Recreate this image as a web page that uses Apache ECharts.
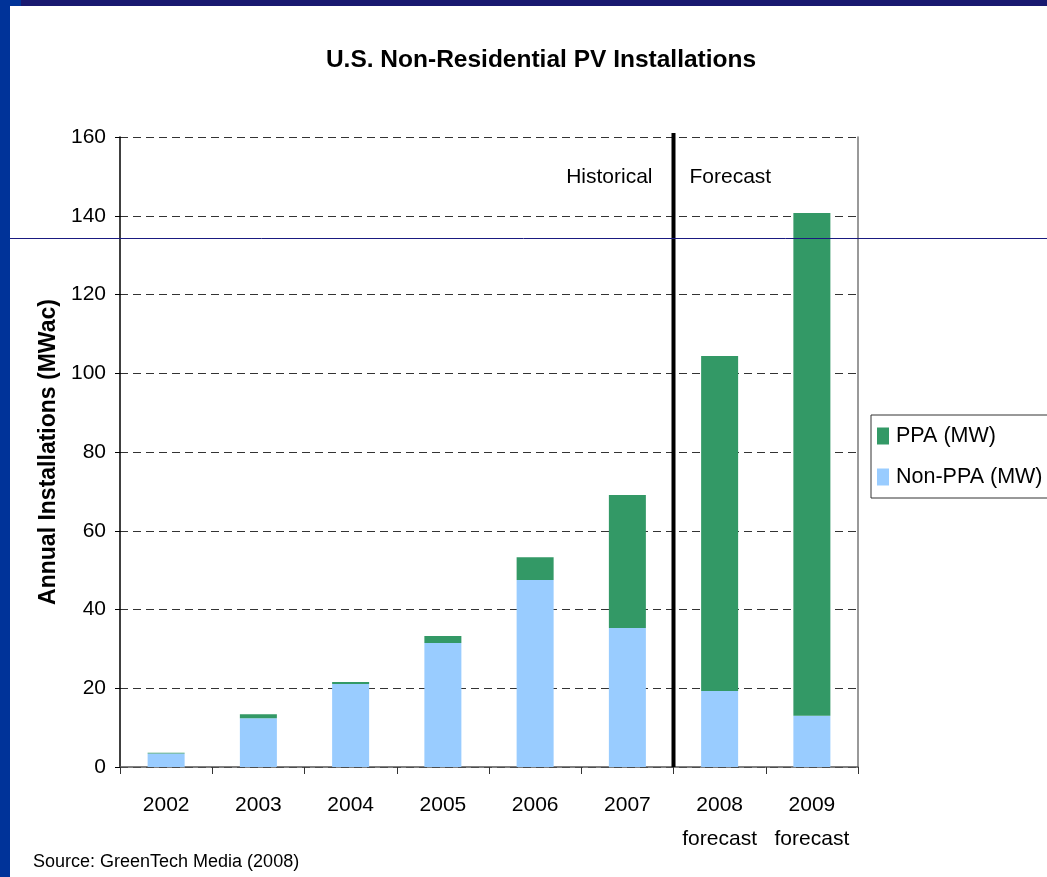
<!DOCTYPE html>
<html>
<head>
<meta charset="utf-8">
<script src="https://cdn.jsdelivr.net/npm/echarts@6/dist/echarts.min.js"></script>
<style>
  html, body { margin: 0; padding: 0; background: #fff; }
  #main { width: 1047px; height: 877px; }
</style>
</head>
<body>
<div id="main"></div>
<script>
const years = ['2002', '2003', '2004', '2005', '2006', '2007', '2008\nforecast', '2009\nforecast']
const nonPpa = [3.4, 12.4, 21.1, 31.5, 47.5, 35.3, 19.3, 13.0]
const ppa = [0.2, 1.0, 0.5, 1.8, 5.8, 33.8, 85.1, 127.7]
const yTicks = [0, 20, 40, 60, 80, 100, 120, 140, 160]

const font = 'Liberation Sans, Arial, sans-serif'
const chart = echarts.init(document.getElementById('main'))

const option = {
  animation: false,
  backgroundColor: '#fff',
  textStyle: { fontFamily: font },
  title: [{
    text: 'U.S. Non-Residential PV Installations',
    left: 536, top: 43, textAlign: 'center',
    textStyle: { fontSize: 24.5, fontWeight: 'bold', color: '#000', fontFamily: font }
  }, {
    text: 'Source: GreenTech Media (2008)',
    left: 28, top: 848,
    textStyle: { fontSize: 18, fontWeight: 'normal', color: '#000', fontFamily: font }
  }],
  legend: {
    orient: 'vertical',
    left: 871, top: 415,
    data: ['PPA (MW)', 'Non-PPA (MW)'],
    itemWidth: 12, itemHeight: 17, itemGap: 19,
    padding: [10, 6, 10, 6],
    borderColor: '#333', borderWidth: 1,
    icon: 'rect',
    textStyle: { fontSize: 21.5, color: '#000', fontFamily: font, padding: [0, 0, 0, 2] }
  },
  grid: { left: 120, right: 189, top: 137, bottom: 110 },
  xAxis: {
    type: 'category',
    data: years,
    axisLine: { lineStyle: { color: '#555', width: 1.5 } },
    axisTick: { show: true, interval: 0, length: 7, lineStyle: { color: '#333' } },
    axisLabel: { interval: 0, fontSize: 21, color: '#000', lineHeight: 34, margin: 21, fontFamily: font }
  },
  yAxis: [{
    type: 'value',
    min: 0, max: 160, interval: 20,
    name: 'Annual Installations (MWac)',
    nameLocation: 'middle', nameGap: 53,
    nameTextStyle: { fontSize: 23, fontWeight: 'bold', color: '#000', fontFamily: font },
    axisLine: { show: true, lineStyle: { color: '#000', width: 1.5 } },
    axisTick: { show: true, length: 5, lineStyle: { color: '#000' } },
    axisLabel: {
      fontSize: 21, color: '#000', margin: 14, fontFamily: font,
      formatter: v => yTicks.includes(v) ? String(v) : ''
    },
    splitLine: { show: true, lineStyle: { color: '#333', type: [8, 5], width: 1 } }
  }, {
    type: 'value',
    min: 0, max: 160, interval: 20,
    position: 'right',
    axisLine: { show: true, lineStyle: { color: '#777', width: 1.5 } },
    axisTick: { show: false },
    axisLabel: { show: false },
    splitLine: { show: false }
  }],
  series: [{
    name: 'Non-PPA (MW)',
    type: 'bar',
    stack: 'total',
    data: nonPpa,
    barWidth: 37,
    itemStyle: { color: '#99ccff' }
  }, {
    name: 'PPA (MW)',
    type: 'bar',
    stack: 'total',
    data: ppa,
    barWidth: 37,
    itemStyle: { color: '#339966' }
  }]
}

chart.setOption(option)

// divider between historical and forecast years
const xa = chart.convertToPixel({ xAxisIndex: 0 }, years[5])
const xb = chart.convertToPixel({ xAxisIndex: 0 }, years[6])
const divX = (xa + xb) / 2
const yTop = chart.convertToPixel({ yAxisIndex: 0 }, 160)
const yBot = chart.convertToPixel({ yAxisIndex: 0 }, 0)

chart.setOption({
  graphic: [
    { type: 'rect', shape: { x: 0, y: 0, width: 1047, height: 6 }, style: { fill: '#191970' }, z: 100 },
    { type: 'rect', shape: { x: 0, y: 0, width: 10, height: 877 }, style: { fill: '#003399' }, z: 101 },
    { type: 'rect', shape: { x: 0, y: 0, width: 21, height: 6 }, style: { fill: '#003399' }, z: 101 },
    { type: 'line', shape: { x1: 0, y1: 238.5, x2: 1047, y2: 238.5 }, style: { stroke: '#1a1a80', lineWidth: 1 }, z: 100 },
    { type: 'line', shape: { x1: divX, y1: yTop - 4, x2: divX, y2: yBot }, style: { stroke: '#000', lineWidth: 4 }, z: 50 },
    { type: 'text', x: divX - 21, y: 177, style: { text: 'Historical', fontSize: 21, fontFamily: font, fill: '#000', align: 'right', verticalAlign: 'middle' }, z: 50 },
    { type: 'text', x: divX + 16, y: 177, style: { text: 'Forecast', fontSize: 21, fontFamily: font, fill: '#000', align: 'left', verticalAlign: 'middle' }, z: 50 }
  ]
})
</script>
</body>
</html>
